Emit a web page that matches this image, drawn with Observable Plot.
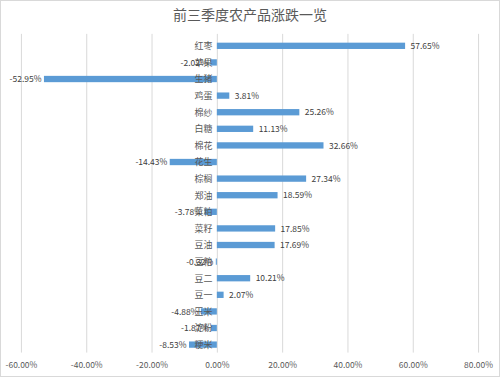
<!DOCTYPE html>
<html>
<head>
<meta charset="utf-8">
<script src="https://cdn.jsdelivr.net/npm/d3@7"></script>
<script src="https://cdn.jsdelivr.net/npm/@observablehq/plot@0.6"></script>
<style>
  body { margin: 0; background: #fff; }
  #chart { position: relative; width: 500px; height: 377px; }
  #chart svg { display: block; box-sizing: border-box; border: 1px solid #d9d9d9; }
  #title { position: absolute; top: 4px; left: 0; width: 500px; text-align: center;
    font: 14px "Noto Sans CJK SC", sans-serif; color: #595959; }
</style>
</head>
<body>
<div id="chart"><div id="title">前三季度农产品涨跌一览</div></div>
<script>
const categories = ["红枣","苹果","生猪","鸡蛋","棉纱","白糖","棉花","花生","棕榈","郑油","菜粕","菜籽","豆油","豆粕","豆二","豆一","玉米","淀粉","粳米"];
const values = [57.65,-2.02,-52.95,3.81,25.26,11.13,32.66,-14.43,27.34,18.59,-3.78,17.85,17.69,-0.32,10.21,2.07,-4.88,-1.87,-8.53];
const xTicks = [-60,-40,-20,0,20,40,60,80];

const data = categories.map((c, i) => ({cat: c, v: values[i]}));
const pos = data.filter(d => d.v >= 0);
const neg = data.filter(d => d.v < 0);
const fmt = d => d.toFixed(2) + "%";
const font = "Noto Sans CJK SC";

const chart = Plot.plot({
  width: 500,
  height: 377,
  marginTop: 37,
  marginBottom: 24,
  marginLeft: 20,
  marginRight: 21,
  style: {fontFamily: font, fontSize: "9px", color: "#595959", background: "#fff"},
  x: {domain: [-60, 80], ticks: xTicks, tickFormat: fmt, label: null},
  y: {domain: categories, paddingInner: 0.62, paddingOuter: 0.29, round: false, axis: null},
  marks: [
    Plot.ruleX(xTicks, {stroke: "#d9d9d9", strokeOpacity: 1, insetTop: -4}),
    Plot.barX(data, {x: "v", y: "cat", fill: "#5b9bd5"}),
    Plot.text(data, {x: 0, y: "cat", text: "cat", textAnchor: "end", dx: -5, fill: "#595959", fontSize: 9}),
    Plot.text(pos, {x: "v", y: "cat", text: d => fmt(d.v), textAnchor: "start", dx: 5, fill: "#404040", fontSize: 8.5}),
    Plot.text(neg, {x: "v", y: "cat", text: d => fmt(d.v), textAnchor: "end", dx: -3, fill: "#404040", fontSize: 8.5}),
    Plot.axisX({ticks: xTicks, tickFormat: fmt, tickSize: 0, tickPadding: 9, fill: "#595959", fontSize: 8.5, label: null})
  ]
});
document.getElementById("chart").appendChild(chart);
</script>
</body>
</html>
